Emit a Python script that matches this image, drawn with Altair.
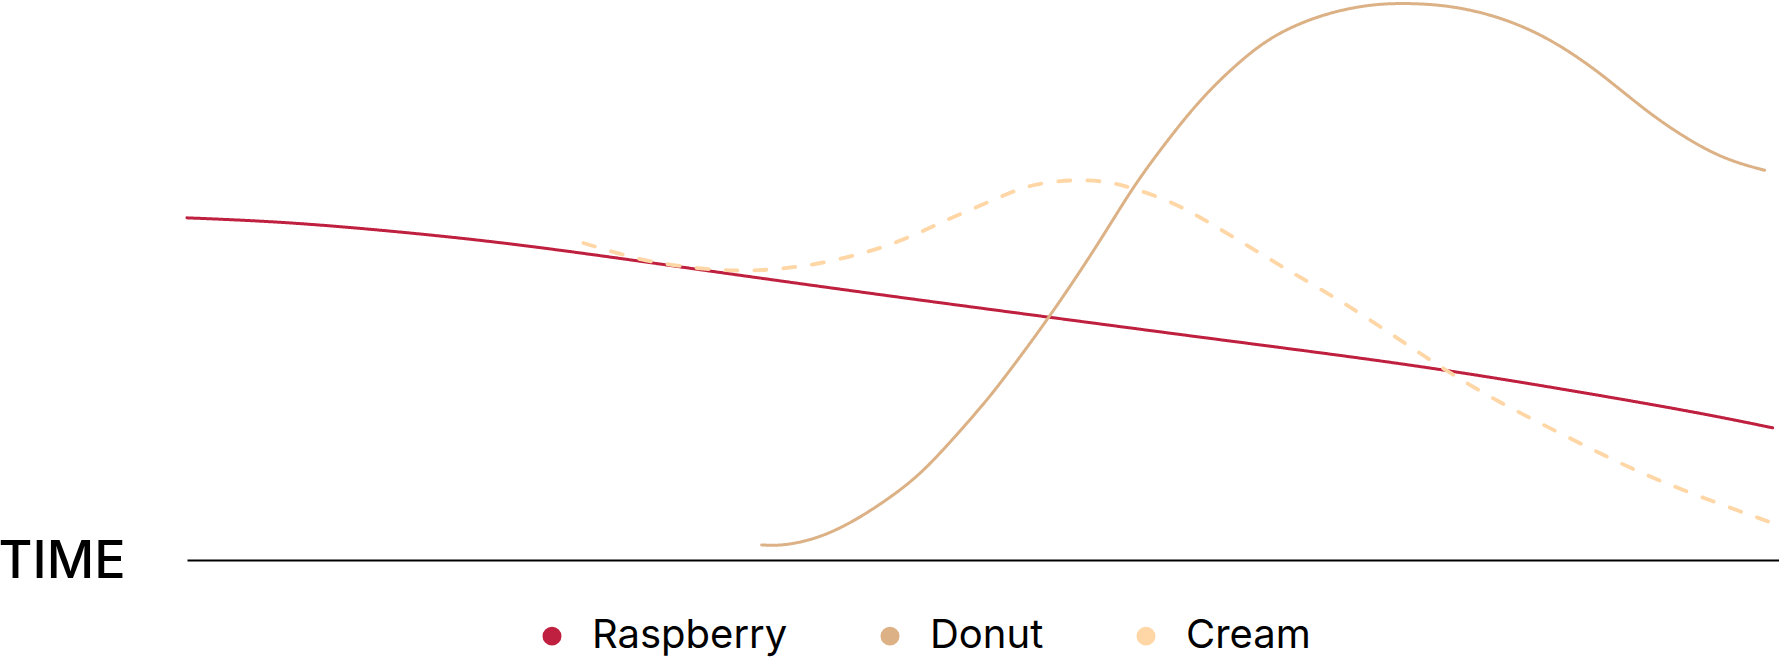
import altair as alt
import pandas as pd

series = ["Raspberry", "Donut", "Cream"]
colors = ["#C0203F", "#DBB185", "#FFD6A5"]
styles = ["solid", "solid", "dashed"]

raspberry_t = [0, 6.0, 12.3, 18.6, 24.9, 33.3, 43.7, 51.1, 63.6, 69.9, 78.3, 86.7, 95.0, 99.6]
raspberry_v = [61.1, 60.4, 58.9, 57.1, 54.8, 51.4, 47.3, 44.5, 39.8, 37.5, 34.3, 30.4, 26.3, 23.6]

donut_t = [36.1, 37.4, 39.6, 41.7, 43.7, 45.9, 47.9, 50.0, 51.1, 54.2, 57.4, 59.4, 61.6, 63.6,
           65.7, 67.8, 69.9, 72.0, 74.1, 76.2, 79.3, 82.5, 85.6, 88.8, 91.9, 95.0, 97.1, 99.1]
donut_v = [2.7, 2.5, 3.8, 6.6, 10.2, 14.8, 20.9, 27.7, 31.6, 43.4, 57.1, 66.6, 75.0, 82.1,
           88.0, 92.9, 95.9, 97.9, 99.1, 99.5, 99.1, 97.0, 93.2, 87.0, 79.5, 73.8, 71.1, 69.6]

cream_t = [24.9, 27.0, 29.1, 32.2, 34.6, 36.5, 38.3, 40.2, 42.1, 43.8, 45.6, 47.3, 49.0, 50.9,
           53.1, 56.1, 58.0, 59.4, 61.6, 63.6, 65.7, 67.8, 69.9, 72.6, 76.2, 79.3, 82.5, 86.7,
           90.8, 95.0, 99.6]
cream_v = [56.6, 54.8, 53.2, 52.0, 51.6, 51.8, 52.3, 53.2, 54.5, 55.9, 57.9, 60.2, 62.3, 64.6,
           67.3, 68.0, 67.5, 66.4, 64.3, 61.3, 57.7, 54.1, 50.5, 46.1, 39.3, 33.4, 28.0, 22.0,
           16.1, 11.3, 6.6]

rows = []
for name, style, ts, vs in [("Raspberry", styles[0], raspberry_t, raspberry_v),
                            ("Donut", styles[1], donut_t, donut_v),
                            ("Cream", styles[2], cream_t, cream_v)]:
    for t, v in zip(ts, vs):
        rows.append({"series": name, "style": style, "t": t, "v": v})
df = pd.DataFrame(rows)

chart = alt.Chart(df).mark_line(interpolate="basis", strokeCap="round").encode(
    x=alt.X("t:Q", scale=alt.Scale(domain=[0, 100], nice=False, zero=False),
            axis=alt.Axis(title="TIME", ticks=False, labels=False, grid=False, domain=True,
                          domainColor="#000000", domainWidth=2,
                          titleFont="Inter", titleFontSize=52, titleFontWeight=500,
                          titleColor="#000000", titleAlign="right", titleBaseline="middle",
                          titleAngle=0, titleX=-62, titleY=1)),
    y=alt.Y("v:Q", scale=alt.Scale(domain=[0, 100], nice=False), axis=None),
    detail="series:N",
    color=alt.Color("series:N", scale=alt.Scale(domain=series, range=colors),
                    legend=alt.Legend(title=None, orient="none", direction="horizontal",
                                      legendX=345, legendY=616, padding=0,
                                      symbolType="circle", symbolSize=90,
                                      symbolStrokeWidth=9.5, symbolOpacity=1,
                                      labelFont="Inter", labelFontSize=40, labelColor="#000000",
                                      labelLimit=500, labelOffset=20, columnPadding=78)),
    strokeDash=alt.StrokeDash("style:N",
                              scale=alt.Scale(domain=["solid", "dashed"], range=[[1, 0], [12, 17]]),
                              legend=None),
    strokeWidth=alt.StrokeWidth("style:N",
                                scale=alt.Scale(domain=["solid", "dashed"], range=[3, 3.8]),
                                legend=None),
).properties(
    width=1592, height=560,
    autosize=alt.AutoSizeParams(type="none"),
    padding={"left": 187, "top": 0, "right": 0, "bottom": 99},
    background="white",
).configure_view(strokeWidth=0)

chart.save("out.html", embed_options={"renderer": "svg", "actions": False})
